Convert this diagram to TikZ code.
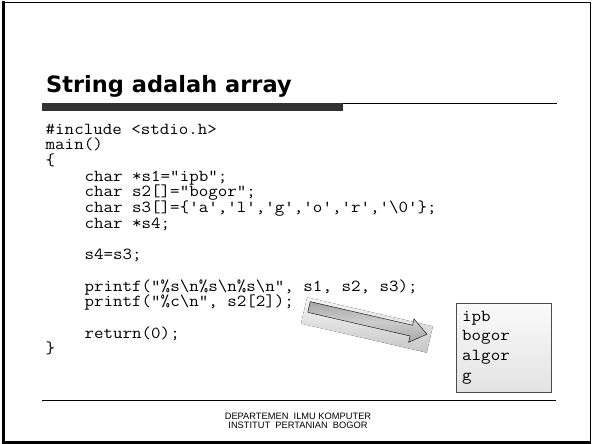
\documentclass[tikz,border=0pt]{standalone}
\usepackage{fontspec}
\setmainfont{Liberation Sans}
\setmonofont{Latin Modern Mono}[FakeStretch=1.1]
\newfontfamily\titlefont{DejaVu Sans}
\usetikzlibrary{positioning}

\tikzset{
  codeline/.style={anchor=base west,inner sep=0pt,
    font=\ttfamily\fontsize{16.8}{16.8}\selectfont},
  restext/.style={codeline},
  outbox/.style={draw=gray!60!black,top color=gray!4,bottom color=gray!22,
    minimum width=95pt,minimum height=89pt,inner sep=0pt},
  footer/.style={anchor=base,inner sep=0pt,
    font=\fontsize{9.3}{9.3}\selectfont},
}

\begin{document}
\begin{tikzpicture}[x=1pt,y=-1pt]
  \useasboundingbox (0,0) rectangle (592,444);
  % slide frame
  \draw[line width=1pt] (3.5,2.5) rectangle (590.5,442);
  \draw[line width=3pt] (3.5,1.5) -- (3.5,443.5);
  \draw[line width=2.5pt] (2,442.7) -- (591,442.7);
  % title
  \node [anchor=base west,inner sep=0pt,
    font=\titlefont\bfseries\fontsize{22.5}{22.5}\selectfont] (title)
    at (46,92.5) {String adalah array};
  \fill[black!80] (42,103) rectangle (343,110.7);
  \draw[line width=1pt] (343,103.5) -- (557,103.5);
  % code
  \node [codeline] (inc) at (45.5,134) {\#include <stdio.h>};
  \node [codeline] (mainfn) at (45.5,149.7) {main()};
  \node [codeline] (open) at (45.5,165.4) {\{};
  \node [codeline] (sone) at (84.4,181.1) {char *s1="ipb";};
  \node [codeline] (stwo) at (84.4,196.8) {char s2[]="bogor";};
  \node [codeline] (sthree) at (84.4,212.5)
    {char s3[]=\{'a','l','g','o','r','\textbackslash0'\};};
  \node [codeline] (sfour) at (84.4,228.2) {char *s4;};
  \node [codeline] (assign) at (84.4,259.6) {s4=s3;};
  \node [codeline] (printa) at (84.4,291)
    {printf("\%s\textbackslash n\%s\textbackslash n\%s\textbackslash n", s1, s2, s3);};
  \node [codeline] (printb) at (84.4,306.7)
    {printf("\%c\textbackslash n", s2[2]);};
  \node [codeline] (ret) at (84.4,338.1) {return(0);};
  \node [codeline] (close) at (45.5,353.8) {\}};
  % block arrow
  \begin{scope}[shift={(309,307)},rotate=-13]
    \fill[top color=gray!6,bottom color=gray!45] (-4,-9) rectangle (125,18);
    \draw[top color=gray!70,bottom color=gray!70,middle color=gray!40]
      (0,-5.5) -- (105,-5.5) -- (105,-12) -- (121,0) -- (105,12)
      -- (105,5.5) -- (0,5.5) -- cycle;
  \end{scope}
  % output
  \node [outbox] (res) at (503.5,347.5) {};
  \foreach \w [count=\i] in {ipb,bogor,algor,g}
    \node [restext] (res\i) at (462,{301.3+19.7*\i}) {\w};
  % footer
  \draw[line width=1pt] (42,400) -- (556,400);
  \node [footer] (dept) at (298,419) {DEPARTEMEN\ \ ILMU KOMPUTER};
  \node [footer] (inst) at (298,428.5) {INSTITUT\ \ PERTANIAN\ \ BOGOR};
\end{tikzpicture}
\end{document}
